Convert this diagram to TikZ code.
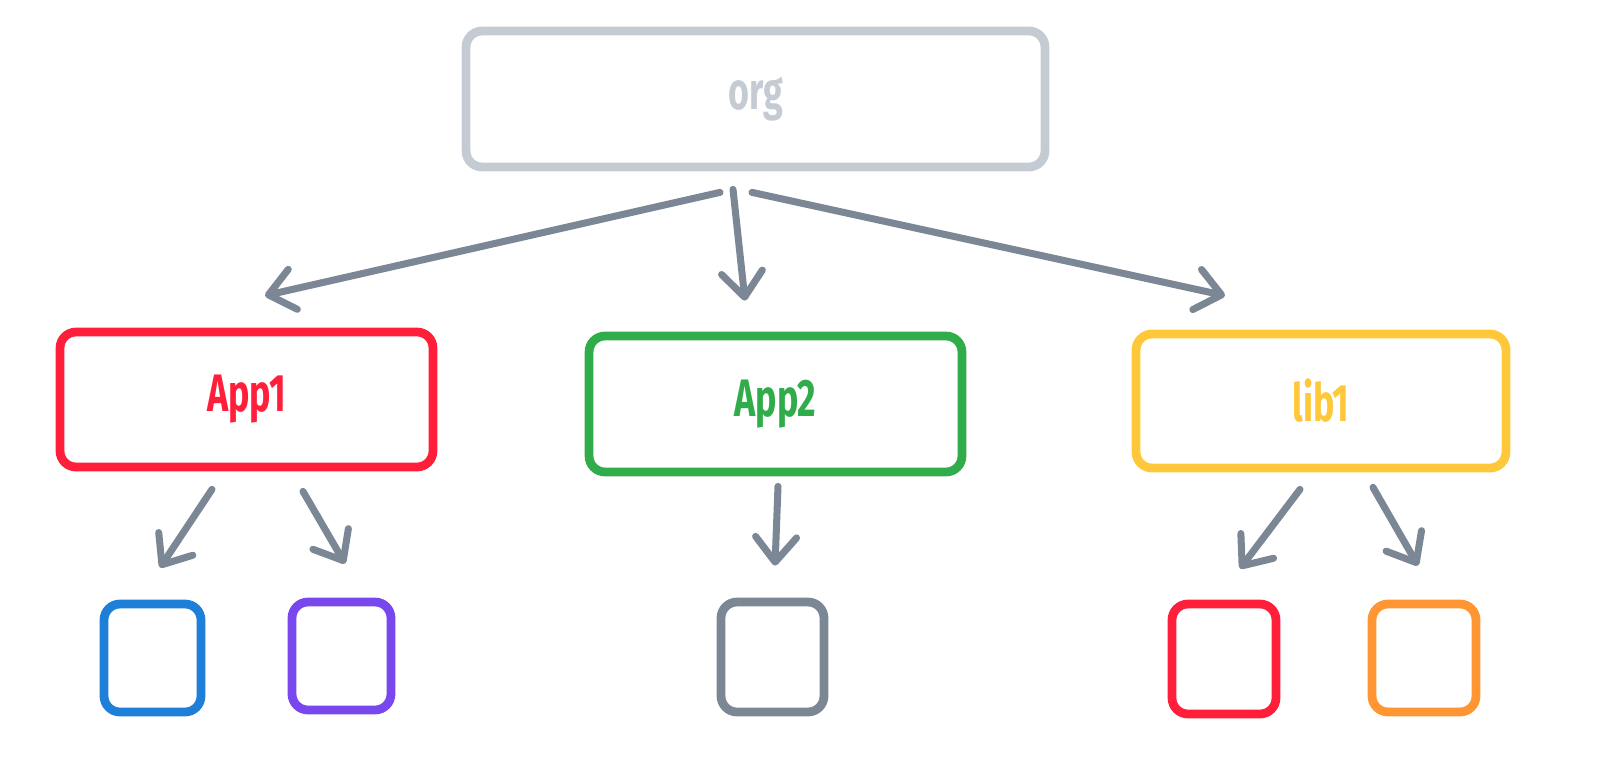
\documentclass[tikz,border=0pt]{standalone}
\usepackage{fontspec}
\setmainfont{Fira Sans}[FakeStretch=0.68]
\usetikzlibrary{arrows.meta}
\definecolor{orggray}{HTML}{C5CBD3}
\definecolor{arrgray}{HTML}{7B8794}
\definecolor{appred}{HTML}{FF1F3A}
\definecolor{appgreen}{HTML}{30AD4A}
\definecolor{libyellow}{HTML}{FFC83A}
\definecolor{boxblue}{HTML}{1E7FD9}
\definecolor{boxpurple}{HTML}{7848EE}
\definecolor{boxorange}{HTML}{FF9533}
\tikzset{
  bigbox/.style={draw=#1, text=#1, line width=5pt, rounded corners=0.32cm,
    inner sep=0pt, font=\fontsize{30}{34}\selectfont\bfseries},
  smallbox/.style={draw=#1, line width=5pt, rounded corners=0.32cm, inner sep=0pt},
  arr/.style={draw=arrgray, line width=4pt, line cap=round, line join=round,
    -{Straight Barb[round, length=5mm, width=8.2mm]}}
}
\begin{document}
\begin{tikzpicture}[x=0.02cm, y=-0.02cm]
\useasboundingbox (0,0) rectangle (1614,768);
% top
\node[bigbox=orggray, minimum width=11.58cm, minimum height=2.72cm] (org) at (755.5,99) {org};
% middle
\node[bigbox=appred, minimum width=7.46cm, minimum height=2.7cm] (app1) at (246.5,399.5) {App1};
\node[bigbox=appgreen, minimum width=7.46cm, minimum height=2.72cm] (app2) at (775.5,404) {App2};
\node[bigbox=libyellow, minimum width=7.4cm, minimum height=2.68cm] (lib1) at (1321,401) {lib1};
% bottom
\node[smallbox=boxblue, minimum width=1.94cm, minimum height=2.16cm] (blue) at (152.5,658) {};
\node[smallbox=boxpurple, minimum width=1.98cm, minimum height=2.16cm] (purple) at (341.5,656) {};
\node[smallbox=arrgray, minimum width=2.06cm, minimum height=2.2cm] (gray) at (772.5,657) {};
\node[smallbox=appred, minimum width=2.08cm, minimum height=2.2cm] (red) at (1224,659) {};
\node[smallbox=boxorange, minimum width=2.08cm, minimum height=2.16cm] (orange) at (1424,658) {};
% arrows
\draw[arr] ([shift={(-35.5,21)}]org.south) -- ([shift={(18.5,-32)}]app1.north);
\draw[arr] ([shift={(-22.5,18)}]org.south) -- ([shift={(-30.5,-31)}]app2.north);
\draw[arr] ([shift={(-3.5,21)}]org.south) -- ([shift={(-96,-34)}]lib1.north);
\draw[arr] ([shift={(-34.5,18)}]app1.south) -- ([shift={(7.5,-32)}]blue.north);
\draw[arr] ([shift={(56.5,20)}]app1.south) -- ([shift={(3.5,-34)}]purple.north);
\draw[arr] ([shift={(2.5,10)}]app2.south) -- ([shift={(2.5,-32)}]gray.north);
\draw[arr] ([shift={(-21,17)}]lib1.south) -- ([shift={(16,-31)}]red.north);
\draw[arr] ([shift={(52,15)}]lib1.south) -- ([shift={(-6,-34)}]orange.north);
\end{tikzpicture}
\end{document}
